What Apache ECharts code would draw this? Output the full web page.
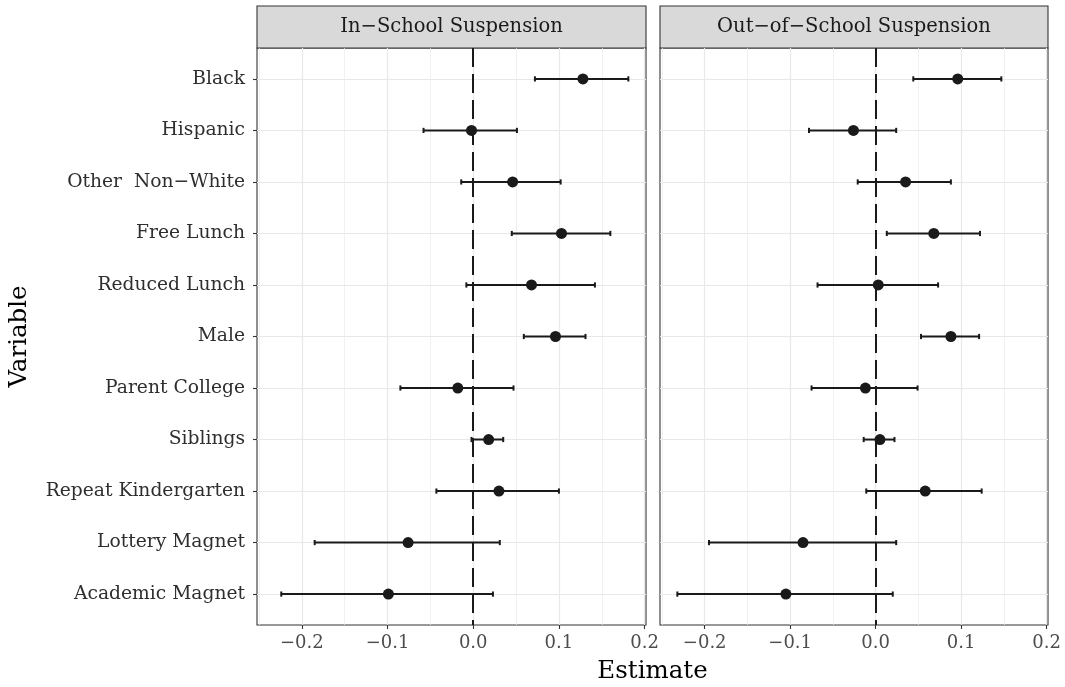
<!DOCTYPE html>
<html>
<head>
<meta charset="utf-8">
<script src="https://cdn.jsdelivr.net/npm/echarts@6/dist/echarts.min.js"></script>
<style>
html,body{margin:0;padding:0;background:#fff;}
#chart{width:1065px;height:687px;}
</style>
</head>
<body>
<div id="chart"></div>
<script>
const variables = ['Black','Hispanic','Other  Non\u2212White','Free Lunch','Reduced Lunch','Male','Parent College','Siblings','Repeat Kindergarten','Lottery Magnet','Academic Magnet'];
const panels = ['In\u2212School Suspension','Out\u2212of\u2212School Suspension'];
const xTicks = [-0.2,-0.1,0,0.1,0.2];
const xMinorTicks = [-0.25,-0.15,-0.05,0.05,0.15];
const yTicks = [0,1,2,3,4,5,6,7,8,9,10];

const inEst = [0.128, -0.002, 0.046, 0.103, 0.068, 0.096, -0.018, 0.018, 0.030, -0.076, -0.099];
const inLo  = [0.072, -0.058, -0.014, 0.045, -0.008, 0.059, -0.085, -0.002, -0.043, -0.185, -0.224];
const inHi  = [0.181, 0.051, 0.102, 0.160, 0.142, 0.131, 0.047, 0.035, 0.100, 0.031, 0.023];
const outEst = [0.096, -0.026, 0.035, 0.068, 0.003, 0.088, -0.012, 0.005, 0.058, -0.085, -0.105];
const outLo  = [0.044, -0.078, -0.021, 0.013, -0.068, 0.053, -0.075, -0.014, -0.011, -0.195, -0.232];
const outHi  = [0.147, 0.024, 0.088, 0.122, 0.073, 0.121, 0.049, 0.022, 0.124, 0.024, 0.020];

const X_MIN = -0.2523, X_MAX = 0.2016;
const FONT = 'DejaVu Serif';
const INK = '#1a1a1a';

const grids = [
  {left:257, top:48, width:389, height:577},
  {left:660, top:48, width:388, height:577}
];

function fmtX(v){
  const s = Math.abs(v).toFixed(1);
  return (v < -1e-9 ? '\u2212' : '') + s;
}

function majorX(gi, showLabels){
  return {
    type:'value', gridIndex:gi, min:X_MIN, max:X_MAX, position:'bottom',
    axisLine:{show:false, onZero:false},
    axisTick:{show:true, length:4, customValues:xTicks, lineStyle:{color:'#333', width:1.1}},
    axisLabel:{show:showLabels, customValues:xTicks, formatter:fmtX, margin:9,
      fontFamily:FONT, fontSize:18, color:'#4d4d4d'},
    splitLine:{show:true, lineStyle:{color:'#e8e8e8', width:1.2}}
  };
}
function minorX(gi){
  return {
    type:'value', gridIndex:gi, min:X_MIN, max:X_MAX, position:'bottom',
    axisLine:{show:false, onZero:false},
    axisTick:{show:false, customValues:xMinorTicks},
    axisLabel:{show:false, customValues:xMinorTicks},
    splitLine:{show:true, lineStyle:{color:'#ebebeb', width:0.7}}
  };
}
function yAx(gi, showLabels){
  return {
    type:'value', gridIndex:gi, min:-0.6, max:10.6, inverse:true, position:'left',
    axisLine:{show:false, onZero:false},
    axisTick:{show:showLabels, length:4, customValues:yTicks, lineStyle:{color:'#333', width:1.1}},
    axisLabel:{show:showLabels, customValues:yTicks, margin:12,
      formatter:(v)=>variables[Math.round(v)] || '',
      fontFamily:FONT, fontSize:18.7, color:'#2e2e2e'},
    splitLine:{show:true, lineStyle:{color:'#e8e8e8', width:1.2}}
  };
}

function renderErr(params, api){
  const y = api.value(0), lo = api.value(1), hi = api.value(2);
  const p1 = api.coord([lo, y]), p2 = api.coord([hi, y]);
  const h = 2.6;
  const style = {stroke:INK, lineWidth:2};
  return {type:'group', children:[
    {type:'line', shape:{x1:p1[0], y1:p1[1], x2:p2[0], y2:p2[1]}, style:style},
    {type:'line', shape:{x1:p1[0], y1:p1[1]-h, x2:p1[0], y2:p1[1]+h}, style:style},
    {type:'line', shape:{x1:p2[0], y1:p2[1]-h, x2:p2[0], y2:p2[1]+h}, style:style}
  ]};
}

function panelSeries(gi, est, lo, hi){
  const xi = gi*2;
  return [
    {
      type:'custom', xAxisIndex:xi, yAxisIndex:gi, z:3,
      renderItem:renderErr,
      encode:{x:[1,2], y:0},
      data: variables.map((v,i)=>[i, lo[i], hi[i]]),
      markLine:{
        silent:true, symbol:['none','none'], label:{show:false}, z:4,
        lineStyle:{type:[19,7], width:2, color:INK},
        data:[{xAxis:0}]
      }
    },
    {
      type:'scatter', xAxisIndex:xi, yAxisIndex:gi, z:5,
      symbol:'circle', symbolSize:11,
      itemStyle:{color:INK, opacity:1},
      data: variables.map((v,i)=>[est[i], i])
    }
  ];
}

const graphics = [];
grids.forEach((g, i)=>{
  graphics.push({
    type:'rect', shape:{x:g.left, y:6, width:g.width, height:42},
    style:{fill:'#d9d9d9', stroke:'#333', lineWidth:1.1}
  });
  graphics.push({
    type:'text', x:g.left + g.width/2, y:27,
    style:{text:panels[i], fill:INK, font:'19.5px "' + FONT + '"', textAlign:'center', textVerticalAlign:'middle'}
  });
});
graphics.push({
  type:'text', x:(grids[0].left + grids[1].left + grids[1].width)/2, y:672,
  style:{text:'Estimate', fill:'#000', font:'24.5px "' + FONT + '"', textAlign:'center', textVerticalAlign:'middle'}
});
graphics.push({
  type:'text', x:20, y:(grids[0].top + grids[0].height/2), rotation:Math.PI/2,
  style:{text:'Variable', fill:'#000', font:'24.5px "' + FONT + '"', textAlign:'center', textVerticalAlign:'middle'}
});

const chart = echarts.init(document.getElementById('chart'), null, {renderer:'canvas'});
chart.setOption({
  animation:false,
  backgroundColor:'#fff',
  grid: grids.map(g=>Object.assign({show:true, borderColor:'#333', borderWidth:1.1, backgroundColor:'transparent', containLabel:false}, g)),
  xAxis:[majorX(0,true), minorX(0), majorX(1,true), minorX(1)],
  yAxis:[yAx(0,true), yAx(1,false)],
  series:[].concat(panelSeries(0, inEst, inLo, inHi), panelSeries(1, outEst, outLo, outHi)),
  graphic:graphics
});
</script>
</body>
</html>
